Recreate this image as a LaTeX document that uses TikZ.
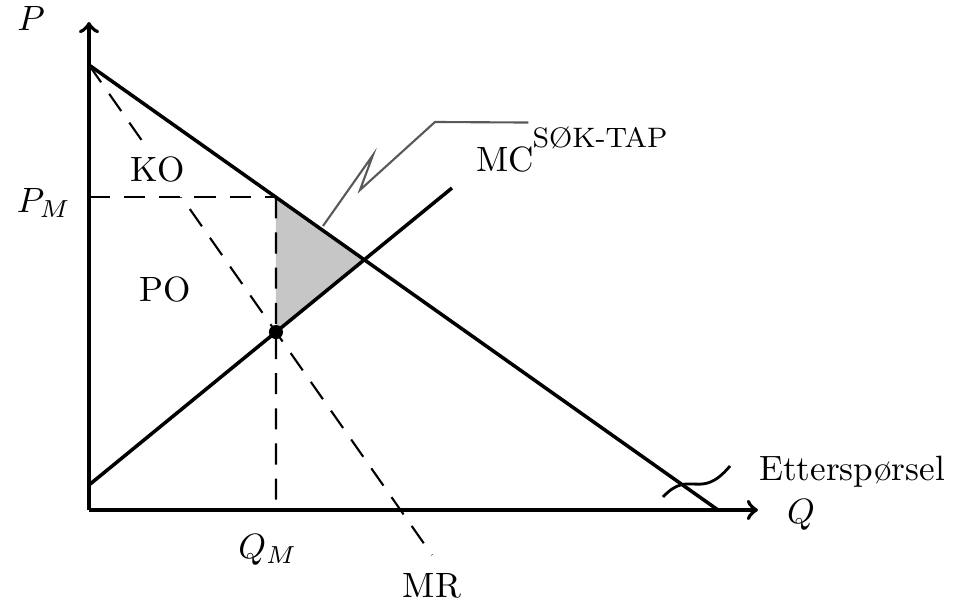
\documentclass[tikz,border=0pt]{standalone}
\usepackage{fontspec}
\usetikzlibrary{arrows,positioning,calc}
\begin{document}
\begin{tikzpicture}[x=0.01cm,y=-0.01cm,
    axis/.style={line width=1.1pt, ->, >=to},
    curve/.style={line width=1pt},
    guide/.style={line width=0.6pt, dash pattern=on 6pt off 4pt},
    lbl/.style={font=\normalsize, inner sep=1pt},
    comment/.style={rectangle, text centered, font=\normalsize, inner sep=1pt}]
    \useasboundingbox (0,0) rectangle (959,604);
    % axes
    \coordinate (O) at (89,510);
    \coordinate (Ptop) at (89,22);
    \coordinate (Qend) at (758,510);
    \draw [axis] (O) -- (Ptop);
    \draw [axis] (O) -- (Qend);
    \node (P) [lbl, left=0.4cm of Ptop, yshift=0.04cm] {$P$};
    \node (Q) [lbl, right=0.25cm of Qend, yshift=-0.05cm] {$Q$};
    % curves
    \coordinate (D0) at (89,65);
    \coordinate (D1) at (718,510);
    \coordinate (MC0) at (89,485);
    \coordinate (MC1) at (452,188);
    \coordinate (MR1) at (432,555);
    \coordinate (E) at (intersection of D0--D1 and MC0--MC1);
    \coordinate (M) at (intersection of D0--MR1 and MC0--MC1);
    \coordinate (Dm) at (intersection of D0--D1 and M--{$(M)+(0,-300)$});
    \coordinate (Pm) at (O|-Dm);
    \coordinate (Qm) at (O-|M);
    % deadweight loss
    \fill [gray!45] (Dm) -- (E) -- (M) -- cycle;
    \draw [guide] (D0) -- (MR1);
    \node (ko) [comment, fill=white, inner sep=4pt] at (158,170) {KO};
    \draw [curve] (D0) -- (D1);
    \draw [curve] (MC0) -- (MC1);
    \draw [guide] (Pm) -- (Dm);
    \draw [guide] (Dm) -- (Qm);
    \fill (M) circle (2pt);
    % labels
    \node (pm) [lbl, left=0.14cm of Pm, yshift=-0.06cm] {$P_M$};
    \node (qm) [lbl, below=0.2cm of Qm, xshift=-0.08cm] {$Q_M$};
    \node (mr) [lbl, below=0.14cm of MR1] {MR};
    \node (mc) [lbl] at (505,160) {MC};
    \node (po) [comment] at (165,290) {PO};
    \node (tap) [comment, font=\footnotesize] at (600,138) {SØK-TAP};
    \node (ett) [comment] at (852,472) {Etterspørsel};
    % leaders
    \coordinate (tapin) at (323,226);
    \draw [line width=0.6pt, gray!70!black] (tapin) -- (373,155) -- (360,190) -- (435,122) -- (tap.north west);
    \coordinate (ettin) at (663,497);
    \coordinate (ettout) at (730,466);
    \draw [line width=0.8pt] (ettin) .. controls (690,468) and (700,502) .. (ettout);
\end{tikzpicture}
\end{document}
